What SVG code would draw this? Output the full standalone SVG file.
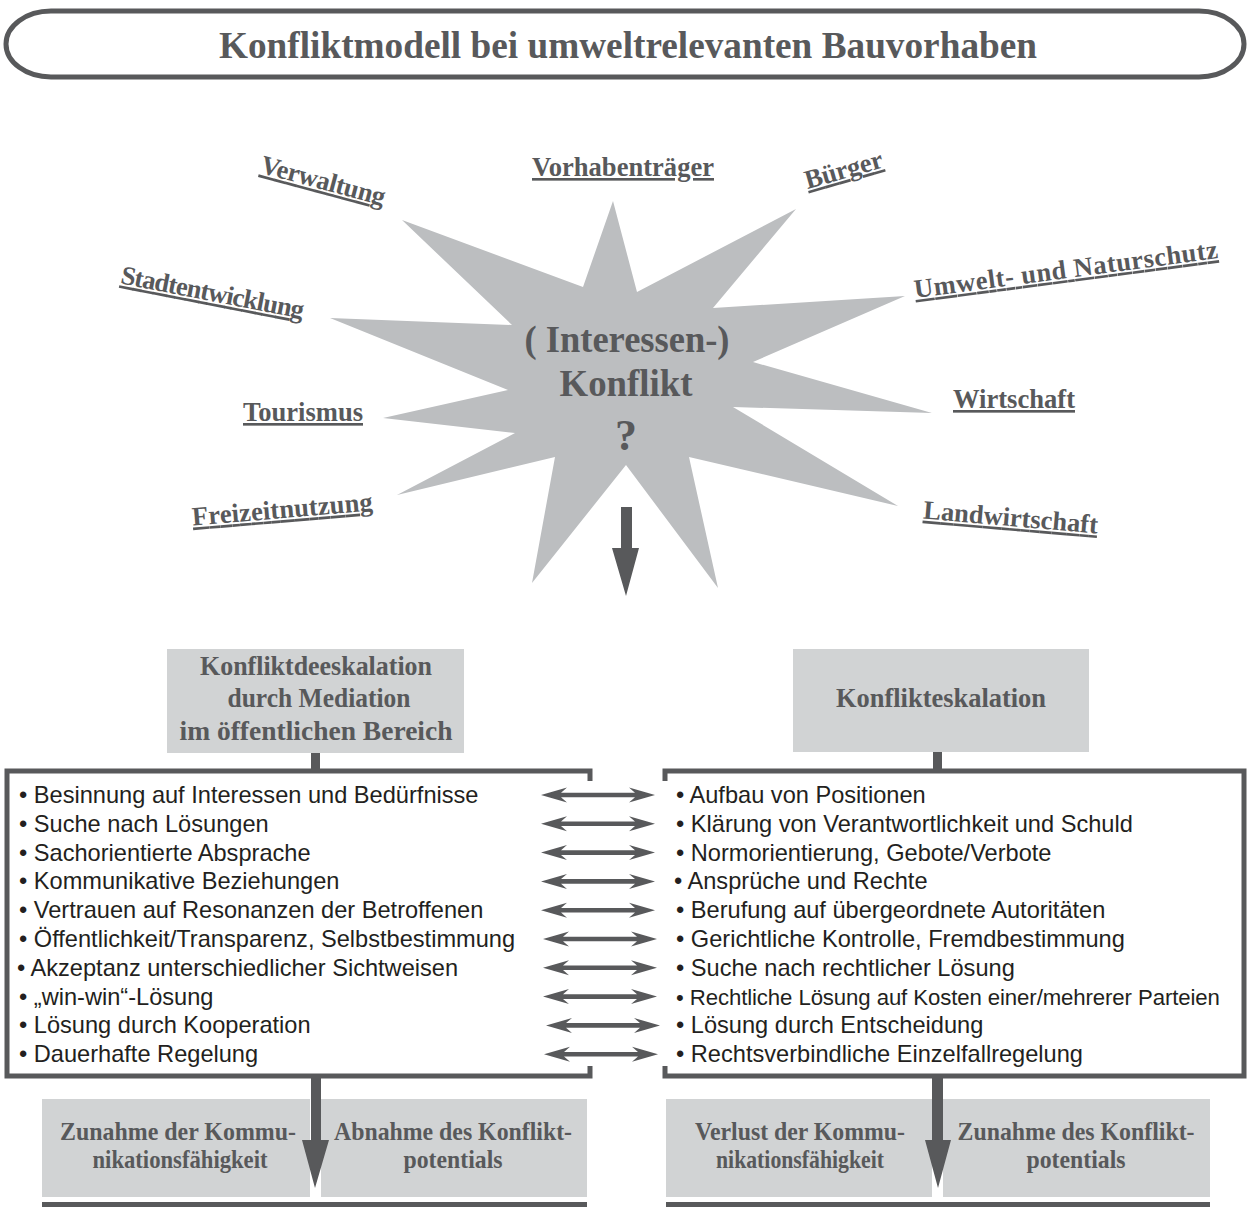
<svg xmlns="http://www.w3.org/2000/svg" width="1250" height="1214" viewBox="0 0 1250 1214">
<style>
.serif{font-family:"Liberation Serif","Times New Roman",serif;font-weight:bold;fill:#58595b}
.lbl{font-size:26.5px;text-decoration:underline}
.item{font-family:"Liberation Sans",Arial,sans-serif;font-size:23.6px;fill:#231f20}
.item.tight{font-size:22.2px;letter-spacing:-0.1px}
.frame{fill:none;stroke:#58595b;stroke-width:5}
.gbox{fill:#d1d3d4}
.dark{fill:#58595b}
</style>
<defs>
<path id="dbl" d="M0,0 L26,-7.5 L20,-2.3 L94,-2.3 L88,-7.5 L114,0 L88,7.5 L94,2.3 L20,2.3 L26,7.5 Z" fill="#58595b"/>
</defs>

<g id="title">
<rect x="6" y="11" width="1238" height="66" rx="45" ry="33" fill="#fff" stroke="#58595b" stroke-width="5"/>
<text class="serif" x="628" y="58" font-size="38" text-anchor="middle" textLength="818" lengthAdjust="spacingAndGlyphs">Konfliktmodell bei umweltrelevanten Bauvorhaben</text>
</g>

<g id="star">
<polygon fill="#bcbec0" points="613,201 637,292 796,209 713,308 905,296 753,362 932,413 733,407 898,506 689,457 718,588 626,465 532,583 555,457 397,495 515,433 383,418 508,390 330,318 512,325 402,220 583,287"/>
<text class="serif" font-size="38" text-anchor="middle"><tspan x="627" y="352" textLength="205" lengthAdjust="spacingAndGlyphs">( Interessen-)</tspan><tspan x="626" y="396" textLength="133" lengthAdjust="spacingAndGlyphs">Konflikt</tspan><tspan x="626" y="450" font-size="44">?</tspan></text>
</g>

<g id="labels">
<text id="l-vorhaben" class="serif lbl" x="623" y="176" text-anchor="middle" textLength="182" lengthAdjust="spacingAndGlyphs">Vorhabenträger</text>
<text id="l-verwaltung" class="serif lbl" text-anchor="middle" textLength="128" transform="translate(321,189) rotate(15)">Verwaltung</text>
<text id="l-buerger" class="serif lbl" text-anchor="middle" textLength="80" transform="translate(846,178) rotate(-16)">Bürger</text>
<text id="l-umwelt" class="serif lbl" text-anchor="middle" textLength="306" transform="translate(1067,278) rotate(-7.5)">Umwelt- und  Naturschutz</text>
<text id="l-stadt" class="serif lbl" text-anchor="middle" textLength="186" transform="translate(211,301) rotate(11)">Stadtentwicklung</text>
<text id="l-wirtschaft" class="serif lbl" x="1014" y="408" text-anchor="middle" textLength="122" lengthAdjust="spacingAndGlyphs">Wirtschaft</text>
<text id="l-tourismus" class="serif lbl" x="303" y="421" text-anchor="middle" textLength="120" lengthAdjust="spacingAndGlyphs">Tourismus</text>
<text id="l-freizeit" class="serif lbl" text-anchor="middle" textLength="181" transform="translate(283,518) rotate(-4.8)">Freizeitnutzung</text>
<text id="l-landwirtschaft" class="serif lbl" text-anchor="middle" textLength="175" transform="translate(1010,526) rotate(4.9)">Landwirtschaft</text>
</g>

<g id="deeskalation">
<rect class="gbox" x="167" y="649" width="297" height="104"/>
<text class="serif" font-size="27.5" text-anchor="middle"><tspan x="316" y="675" textLength="232" lengthAdjust="spacingAndGlyphs">Konfliktdeeskalation</tspan><tspan x="319" y="707" textLength="183" lengthAdjust="spacingAndGlyphs">durch Mediation</tspan><tspan x="316" y="740" textLength="273" lengthAdjust="spacingAndGlyphs">im öffentlichen Bereich</tspan></text>
</g>

<g id="eskalation">
<rect class="gbox" x="793" y="649" width="296" height="103"/>
<text class="serif" x="941" y="707" font-size="27.5" text-anchor="middle" textLength="210" lengthAdjust="spacingAndGlyphs">Konflikteskalation</text>
</g>

<g id="list-left">
<path class="frame" d="M590,781 V771 H7 V1076 H590 V1066"/>
<text class="item"><tspan x="19" y="803">• Besinnung auf Interessen und Bedürfnisse</tspan><tspan x="19" y="831.8">• Suche nach Lösungen</tspan><tspan x="19" y="860.6">• Sachorientierte Absprache</tspan><tspan x="19" y="889.4">• Kommunikative Beziehungen</tspan><tspan x="19" y="918.2">• Vertrauen auf Resonanzen der Betroffenen</tspan><tspan x="19" y="947">• Öffentlichkeit/Transparenz, Selbstbestimmung</tspan><tspan x="17" y="975.8">• Akzeptanz unterschiedlicher Sichtweisen</tspan><tspan x="19" y="1004.6">• „win-win“-Lösung</tspan><tspan x="19" y="1033.4">• Lösung durch Kooperation</tspan><tspan x="19" y="1062.2">• Dauerhafte Regelung</tspan></text>
</g>

<g id="list-right">
<path class="frame" d="M665,781 V771 H1244 V1076 H665 V1066"/>
<text class="item"><tspan x="676" y="803">• Aufbau von Positionen</tspan><tspan x="676" y="831.8">• Klärung von Verantwortlichkeit und Schuld</tspan><tspan x="676" y="860.6">• Normorientierung, Gebote/Verbote</tspan><tspan x="674" y="889.4">• Ansprüche und Rechte</tspan><tspan x="676" y="918.2">• Berufung auf übergeordnete Autoritäten</tspan><tspan x="676" y="947">• Gerichtliche Kontrolle, Fremdbestimmung</tspan><tspan x="676" y="975.8">• Suche nach rechtlicher Lösung</tspan></text>
<text class="item tight" x="676" y="1004.6">• Rechtliche Lösung auf Kosten einer/mehrerer Parteien</text>
<text class="item"><tspan x="676" y="1033.4">• Lösung durch Entscheidung</tspan><tspan x="676" y="1062.2">• Rechtsverbindliche Einzelfallregelung</tspan></text>
</g>

<g id="result-left">
<rect class="gbox" x="42" y="1099" width="268" height="98"/>
<rect class="gbox" x="321" y="1099" width="266" height="98"/>
<rect class="dark" x="42" y="1202" width="545" height="5"/>
<text class="serif" font-size="24.5" text-anchor="middle"><tspan x="178" y="1140" textLength="236" lengthAdjust="spacingAndGlyphs">Zunahme der Kommu-</tspan><tspan x="180" y="1168" textLength="175" lengthAdjust="spacingAndGlyphs">nikationsfähigkeit</tspan><tspan x="453" y="1140" textLength="238" lengthAdjust="spacingAndGlyphs">Abnahme des Konflikt-</tspan><tspan x="453" y="1168" textLength="99" lengthAdjust="spacingAndGlyphs">potentials</tspan></text>
</g>

<g id="result-right">
<rect class="gbox" x="666" y="1099" width="266" height="98"/>
<rect class="gbox" x="943" y="1099" width="267" height="98"/>
<rect class="dark" x="666" y="1202" width="544" height="5"/>
<text class="serif" font-size="24.5" text-anchor="middle"><tspan x="800" y="1140" textLength="210" lengthAdjust="spacingAndGlyphs">Verlust der Kommu-</tspan><tspan x="800" y="1168" textLength="168" lengthAdjust="spacingAndGlyphs">nikationsfähigkeit</tspan><tspan x="1076" y="1140" textLength="237" lengthAdjust="spacingAndGlyphs">Zunahme des Konflikt-</tspan><tspan x="1076" y="1168" textLength="99" lengthAdjust="spacingAndGlyphs">potentials</tspan></text>
</g>

<g id="connectors">
<path class="dark" d="M621,507 H632 V548 H639 L626,596 L612,548 H621 Z"/>
<rect class="dark" x="311" y="753" width="9" height="18"/>
<rect class="dark" x="933" y="752" width="9" height="19"/>
<path class="dark" d="M311,1076 H321 V1140 H329 L315,1188 L302,1140 H311 Z"/>
<path class="dark" d="M932,1076 H943 V1140 H951 L938,1188 L925,1140 H932 Z"/>
<use href="#dbl" x="541" y="795"/>
<use href="#dbl" x="541" y="823.8"/>
<use href="#dbl" x="541" y="852.6"/>
<use href="#dbl" x="541" y="881.4"/>
<use href="#dbl" x="541" y="910.2"/>
<use href="#dbl" x="543" y="939"/>
<use href="#dbl" x="543" y="967.8"/>
<use href="#dbl" x="543" y="996.6"/>
<use href="#dbl" x="546" y="1025.4"/>
<use href="#dbl" x="544" y="1054.2"/>
</g>
</svg>
